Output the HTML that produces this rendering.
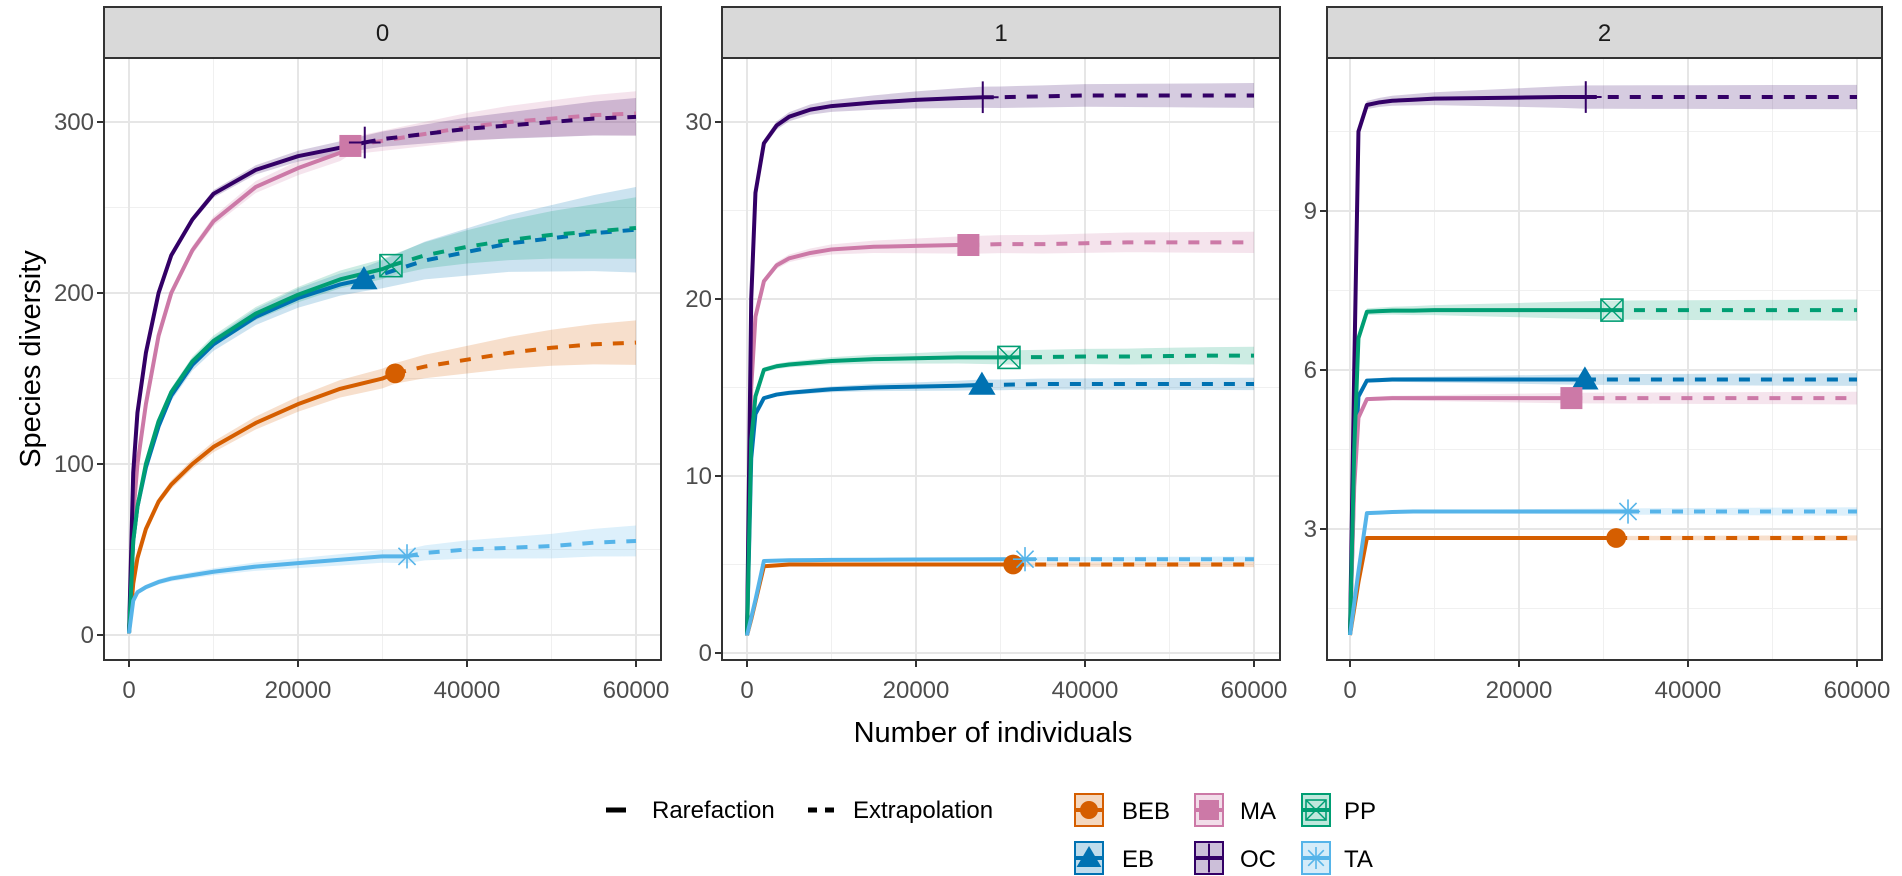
<!DOCTYPE html>
<html><head><meta charset="utf-8"><style>
html,body{margin:0;padding:0;background:#fff;}
svg{display:block;font-family:"Liberation Sans",Arial,sans-serif;}
</style></head><body>
<svg id="chart" width="1902" height="876" viewBox="0 0 1902 876"></svg>
<script>
// ---- data ----
const groups = ['BEB','EB','MA','OC','PP','TA'];
const colors = ['#D55E00','#0072B2','#CC79A7','#330066','#009E73','#56B4E9'];
const shapes = ['circle','triangle','square','plus','boxx','star'];
const xGrid = [0,500,1000,2000,3500,5000,7500,10000,15000,20000,25000,30000,35000,40000,45000,50000,55000,60000];
const obsN = [31500,27800,26200,27900,31000,32900];
const panelLabels = ['0','1','2'];
const xTicks = [0,20000,40000,60000];
const q0Ticks = [0,100,200,300];
const q1Ticks = [0,10,20,30];
const q2Ticks = [3,6,9];
// q = 0
const q0BEB = [1,30,45,62,78,88,100,110,124,135,144,150,157,161,165,168,170,171];
const q0EB  = [1,55,75,98,122,140,158,170,186,197,205,211,219,224,229,232,235,237];
const q0MA  = [1,70,100,135,175,200,225,242,262,273,282,289,293,297,300,302,304,305];
const q0OC  = [1,95,130,165,200,222,243,258,272,280,285,290,293,296,298,300,302,303];
const q0PP  = [1,55,75,100,125,142,160,172,188,199,208,214,222,227,231,234,236,238];
const q0TA  = [1,20,25,28,31,33,35,37,40,42,44,46,48,50,51,52,54,55];
const q0Obs = [153,208,286,288,216,46];
const q0HalfObs = [6,7,5,4,6,4];
const q0HalfEnd = [13,25,13,11,18,9];
// q = 1
const q1BEB = [1,1.9,2.9,4.9,4.95,5.0,5.0,5.0,5.0,5.0,5.0,5.0,5.0,5.0,5.0,5.0,5.0,5.0];
const q1EB  = [1,11,13.5,14.4,14.6,14.7,14.8,14.9,15.0,15.05,15.1,15.15,15.2,15.2,15.2,15.2,15.2,15.2];
const q1MA  = [1,15,19,21,21.9,22.3,22.6,22.8,22.95,23.0,23.05,23.1,23.1,23.15,23.2,23.2,23.2,23.2];
const q1OC  = [1,20,26,28.8,29.8,30.3,30.7,30.9,31.1,31.25,31.35,31.4,31.45,31.5,31.5,31.5,31.5,31.5];
const q1PP  = [1,12,14.5,16.0,16.2,16.3,16.4,16.5,16.6,16.65,16.7,16.7,16.72,16.75,16.75,16.78,16.8,16.8];
const q1TA  = [1,2,3,5.2,5.22,5.24,5.25,5.26,5.27,5.28,5.29,5.3,5.3,5.3,5.3,5.3,5.3,5.3];
const q1Obs = [5.0,15.15,23.05,31.4,16.7,5.3];
const q1HalfObs = [0.12,0.3,0.5,0.6,0.4,0.12];
const q1HalfEnd = [0.15,0.35,0.6,0.7,0.5,0.15];
// q = 2
const q2BEB = [1,1.5,2.0,2.83,2.83,2.83,2.83,2.83,2.83,2.83,2.83,2.83,2.83,2.83,2.83,2.83,2.83,2.83];
const q2EB  = [1,4,5.5,5.8,5.81,5.82,5.82,5.82,5.82,5.82,5.82,5.82,5.82,5.82,5.82,5.82,5.82,5.82];
const q2MA  = [1,3.8,5.1,5.45,5.46,5.47,5.47,5.47,5.47,5.47,5.47,5.47,5.47,5.47,5.47,5.47,5.47,5.47];
const q2OC  = [1,6,10.5,11.0,11.05,11.08,11.1,11.12,11.13,11.14,11.15,11.15,11.15,11.15,11.15,11.15,11.15,11.15];
const q2PP  = [1,4.5,6.6,7.1,7.11,7.12,7.12,7.13,7.13,7.13,7.13,7.13,7.13,7.13,7.13,7.13,7.13,7.13];
const q2TA  = [1,1.6,2.2,3.3,3.31,3.32,3.33,3.33,3.33,3.33,3.33,3.33,3.33,3.33,3.33,3.33,3.33,3.33];
const q2Obs = [2.83,5.82,5.47,11.15,7.13,3.33];
const q2HalfObs = [0.04,0.1,0.1,0.22,0.18,0.06];
const q2HalfEnd = [0.05,0.12,0.12,0.23,0.2,0.08];

const NS = 'http://www.w3.org/2000/svg';
const svg = document.getElementById('chart');
function mk(tag, attrs, parent){
  const e = document.createElementNS(NS, tag);
  for (const k in attrs) e.setAttribute(k, attrs[k]);
  (parent||svg).appendChild(e);
  return e;
}
const layout = [
  {left:104,right:661,x0:129,x60:636,y0:635,k:1.71,ticks:q0Ticks,minor:[50,150,250],
   series:[q0BEB,q0EB,q0MA,q0OC,q0PP,q0TA],obs:q0Obs,hObs:q0HalfObs,hEnd:q0HalfEnd},
  {left:722,right:1280,x0:747,x60:1254,y0:653,k:17.7,ticks:q1Ticks,minor:[5,15,25],
   series:[q1BEB,q1EB,q1MA,q1OC,q1PP,q1TA],obs:q1Obs,hObs:q1HalfObs,hEnd:q1HalfEnd},
  {left:1327,right:1882,x0:1350,x60:1857,y0:688,k:53,ticks:q2Ticks,minor:[1.5,4.5,7.5,10.5],
   series:[q2BEB,q2EB,q2MA,q2OC,q2PP,q2TA],obs:q2Obs,hObs:q2HalfObs,hEnd:q2HalfEnd}
];
const TOP = 58, BOT = 660, STRIPTOP = 7;

function drawMarker(g, shape, cx, cy, col, s){
  if (shape==='circle') mk('circle',{cx:cx,cy:cy,r:s*0.45,fill:col},g);
  else if (shape==='square') mk('rect',{x:cx-s*0.5,y:cy-s*0.5,width:s,height:s,fill:col},g);
  else if (shape==='triangle') mk('polygon',{points:`${cx},${cy-s*0.6} ${cx-s*0.62},${cy+s*0.45} ${cx+s*0.62},${cy+s*0.45}`,fill:col},g);
  else if (shape==='plus'){ mk('line',{x1:cx,y1:cy-s*0.72,x2:cx,y2:cy+s*0.72,stroke:col,'stroke-width':2},g);
    mk('line',{x1:cx-s*0.72,y1:cy,x2:cx+s*0.72,y2:cy,stroke:col,'stroke-width':2},g); }
  else if (shape==='boxx'){ const h=s*0.5;
    mk('rect',{x:cx-h,y:cy-h,width:s,height:s,fill:'none',stroke:col,'stroke-width':1.6},g);
    mk('line',{x1:cx-h,y1:cy-h,x2:cx+h,y2:cy+h,stroke:col,'stroke-width':1.4},g);
    mk('line',{x1:cx-h,y1:cy+h,x2:cx+h,y2:cy-h,stroke:col,'stroke-width':1.4},g); }
  else if (shape==='star'){ const h=s*0.55;
    for (let a=0;a<4;a++){ const t=a*Math.PI/4;
      mk('line',{x1:cx-h*Math.cos(t),y1:cy-h*Math.sin(t),x2:cx+h*Math.cos(t),y2:cy+h*Math.sin(t),stroke:col,'stroke-width':1.6},g); } }
}

layout.forEach((P,pi)=>{
  const sx = v => P.x0 + (v/60000)*(P.x60-P.x0);
  const sy = v => P.y0 - v*P.k;
  const pg = mk('g',{});
  
  
  const clipId='clip'+pi;
  const cp = mk('clipPath',{id:clipId},pg);
  mk('rect',{x:P.left,y:TOP,width:P.right-P.left,height:BOT-TOP},cp);
  // grid
  const grid = mk('g',{},pg);
  
  
  [10000,30000,50000].forEach(v=>mk('line',{x1:sx(v),x2:sx(v),y1:TOP,y2:BOT,stroke:'#f0f0f0','stroke-width':1},grid));
  P.minor.forEach(v=>{ const y=sy(v); if(y>TOP&&y<BOT) mk('line',{x1:P.left,x2:P.right,y1:y,y2:y,stroke:'#f0f0f0','stroke-width':1},grid);});
  xTicks.forEach(v=>mk('line',{x1:sx(v),x2:sx(v),y1:TOP,y2:BOT,stroke:'#e6e6e6','stroke-width':2},grid));
  P.ticks.forEach(v=>mk('line',{x1:P.left,x2:P.right,y1:sy(v),y2:sy(v),stroke:'#e6e6e6','stroke-width':2},grid));
  const dg = mk('g',{'clip-path':`url(#${clipId})`},pg);
  // bands
  P.series.forEach((ys,si)=>{
    const n=obsN[si];
    const half = x => x<=n ? P.hObs[si]*Math.min(1, 0.3+0.7*x/n) : P.hObs[si]+(P.hEnd[si]-P.hObs[si])*(x-n)/(60000-n);
    const pts=[]; xGrid.forEach((x,i)=>{ if(x<n) pts.push([x,ys[i]]); });
    pts.push([n,P.obs[si]]);
    xGrid.forEach((x,i)=>{ if(x>n) pts.push([x,ys[i]]); });
    const up = pts.map(p=>`${sx(p[0])},${sy(p[1]+half(p[0]))}`);
    const lo = pts.slice().reverse().map(p=>`${sx(p[0])},${sy(p[1]-half(p[0]))}`);
    const b = mk('polygon',{points:up.concat(lo).join(' '),fill:colors[si],'fill-opacity':0.2,stroke:'none'},dg);
    
    
  });
  // lines
  P.series.forEach((ys,si)=>{
    const n=obsN[si];
    const r=[]; const e=[[sx(n),sy(P.obs[si])]];
    xGrid.forEach((x,i)=>{ if(x<n) r.push([sx(x),sy(ys[i])]); else if(x>n) e.push([sx(x),sy(ys[i])]); });
    r.push([sx(n),sy(P.obs[si])]);
    const l1 = mk('polyline',{points:r.map(p=>p.join(',')).join(' '),fill:'none',stroke:colors[si],'stroke-width':4,'stroke-linejoin':'round'},dg);
    
    
    const l2 = mk('polyline',{points:e.map(p=>p.join(',')).join(' '),fill:'none',stroke:colors[si],'stroke-width':4,'stroke-dasharray':'11 11'},dg);
    
    
  });
  // markers
  P.series.forEach((ys,si)=>{
    const mg = mk('g',{},dg);
    
    
    drawMarker(mg, shapes[si], sx(obsN[si]), sy(P.obs[si]), colors[si], shapes[si]==='plus'?22:22);
  });
  // border
  const br = mk('rect',{x:P.left,y:TOP,width:P.right-P.left,height:BOT-TOP,fill:'none',stroke:'#333','stroke-width':2},pg);
  
  
  // strip
  const st = mk('rect',{x:P.left,y:STRIPTOP,width:P.right-P.left,height:TOP-STRIPTOP,fill:'#d9d9d9',stroke:'#333','stroke-width':2},pg);
  
  
  const stt = mk('text',{x:(P.left+P.right)/2,y:41,'text-anchor':'middle','font-size':24,fill:'#1a1a1a'},pg);
  stt.textContent = panelLabels[pi];
  
  
  // x ticks
  xTicks.forEach(v=>{
    mk('line',{x1:sx(v),x2:sx(v),y1:BOT,y2:BOT+7,stroke:'#333','stroke-width':2},pg);
    const t = mk('text',{x:sx(v),y:698,'text-anchor':'middle','font-size':24,fill:'#4d4d4d'},pg);
    t.textContent = v;
    
    
  });
  P.ticks.forEach(v=>{
    mk('line',{x1:P.left-7,x2:P.left,y1:sy(v),y2:sy(v),stroke:'#333','stroke-width':2},pg);
    const t = mk('text',{x:P.left-10,y:sy(v)+8,'text-anchor':'end','font-size':24,fill:'#4d4d4d'},pg);
    t.textContent = v;
    
    
  });
});
// axis titles
const xt = mk('text',{x:993,y:742,'text-anchor':'middle','font-size':29,fill:'#000'});
xt.textContent='Number of individuals';


const yt = mk('text',{x:0,y:0,'text-anchor':'middle','font-size':29,fill:'#000',transform:'translate(40,359) rotate(-90)'});
yt.textContent='Species diversity';


// legend linetype
const lg = mk('g',{});


const lt1 = mk('g',{},lg);


mk('line',{x1:606,x2:626,y1:810,y2:810,stroke:'#000','stroke-width':5},lt1);
const lt1t = mk('text',{x:652,y:818,'font-size':24},lt1); lt1t.textContent='Rarefaction';
const lt2 = mk('g',{},lg);


mk('line',{x1:808,x2:836,y1:810,y2:810,stroke:'#000','stroke-width':5,'stroke-dasharray':'9 8'},lt2);
const lt2t = mk('text',{x:853,y:818,'font-size':24},lt2); lt2t.textContent='Extrapolation';
const colX=[1075,1195,1302], txtX=[1122,1240,1344], rowY=[810,858];
const order=[0,2,4,1,3,5];
order.forEach((si,k)=>{
  const c=k%3, r=Math.floor(k/3);
  const eg = mk('g',{},lg);
  
  
  const kx=colX[c], ky=rowY[r];
  mk('rect',{x:kx,y:ky-16,width:28,height:32,fill:colors[si],'fill-opacity':0.25,stroke:colors[si],'stroke-width':2},eg);
  mk('line',{x1:kx,x2:kx+28,y1:ky,y2:ky,stroke:colors[si],'stroke-width':4},eg);
  drawMarker(eg, shapes[si], kx+14, ky, colors[si], 20);
  const t = mk('text',{x:txtX[c],y:ky+9,'font-size':24},eg); t.textContent=groups[si];
});
</script>
</body></html>
